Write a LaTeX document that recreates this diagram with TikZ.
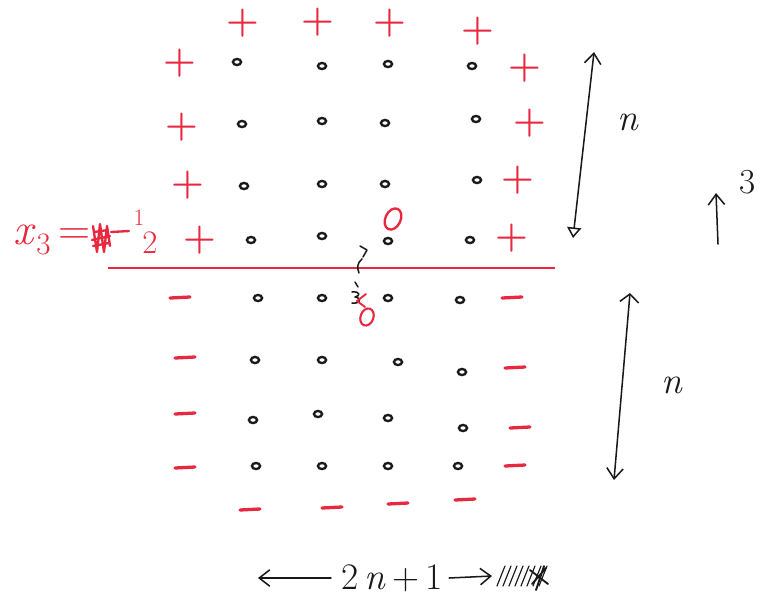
\documentclass[tikz,border=0pt]{standalone}
\usetikzlibrary{arrows.meta,shapes.geometric}
\definecolor{pen}{RGB}{232,40,62}
\definecolor{ink}{RGB}{25,25,25}
\begin{document}
\begin{tikzpicture}[x=0.03cm,y=-0.03cm,
  plus/.style={text=pen,inner sep=0pt,font=\fontsize{32}{32}\selectfont\bfseries},
  minus/.style={draw=pen,line width=2.8pt,line cap=round},
  dot/.style={draw=ink,ellipse,line width=2pt,inner sep=0pt,minimum width=7pt,minimum height=5.2pt},
  lab/.style={text=ink,inner sep=0pt,font=\fontsize{32}{32}\selectfont\itshape},
  redlab/.style={text=pen,inner sep=0pt,font=\fontsize{38}{38}\selectfont},
  hand/.style={draw=ink,line width=1.3pt,line cap=round,line join=round},
  redhand/.style={draw=pen,line width=1.6pt,line cap=round,line join=round},
  barb/.style={-{Straight Barb[length=9pt,width=14pt,line width=1.3pt]}}
]
\useasboundingbox (0,0) rectangle (764,606);
% top row of plus signs
\foreach \x/\y [count=\i] in {243/23,318/22,390/23,478/31}
  \node[plus] (pt\i) at (\x,\y) {+};
% left and right plus signs
\foreach \x/\y [count=\i] in {180/63,182/127,188/185,200/240}
  \node[plus] (pl\i) at (\x,\y) {+};
\foreach \x/\y [count=\i] in {525/68,530/123,518/180,512/238}
  \node[plus] (pr\i) at (\x,\y) {+};
% upper dots
\foreach \x/\y [count=\i] in {237/62,322/66,388/64,472/66,
                              242/124,322/121,385/123,476/119,
                              244/186,322/184,385/184,477/180,
                              251/240,322/236,388/241,470/240}
  \node[dot] (du\i) at (\x,\y) {};
% red zero above a dot
\node[draw=pen,ellipse,line width=2pt,minimum width=13pt,minimum height=19pt,rotate=-25,inner sep=0pt] (rz) at (393,219) {};
% dividing line
\coordinate (la) at (108,268);
\coordinate (lb) at (555,268);
\draw[pen,line width=1.6pt] (la) -- (lb);
% lower dots
\foreach \x/\y [count=\i] in {258/298,322/298,388/298,460/300,
                              255/360,322/360,398/362,462/372,
                              253/420,318/414,388/418,463/428,
                              256/466,322/466,388/466,458/466}
  \node[dot] (dl\i) at (\x,\y) {};
% minus signs
\foreach \x/\y [count=\i] in {180/298,185/358,185/414,185/468,
                              512/298,515/368,520/428,515/466,
                              250/510,332/508,398/504,465/500}
  \draw[minus] (\x-10,\y) -- (\x+10,\y-1);
% small annotation at the centre
\draw[hand] (360,246) -- (367,250) -- (363,257);
\draw[hand] (362,259) .. controls (357,263) and (357,268) .. (359,273);
\draw[hand] (355,282) -- (358,287);
\draw[hand] (352,292) .. controls (360,291) and (361,296) .. (355,297) .. controls (362,298) and (361,304) .. (352,303);
\draw[redhand] (366,294) -- (357,301) -- (365,307);
\node[draw=pen,ellipse,line width=1.8pt,minimum width=11pt,minimum height=15pt,rotate=-20,inner sep=0pt] (rz2) at (367,317) {};
% left label x_3 = -1/2
\node[redlab,anchor=east] (xeq) at (91,240) {\textit{x}\textsubscript{3}\,=};
\draw[redhand,line width=2pt] (93,226) -- (97,252) -- (100,224) -- (104,252) -- (107,226) -- (110,246)
  (92,240) -- (110,236) (93,246) -- (109,243) (94,232) -- (108,230);
\coordinate (m1) at (111,232);
\coordinate (m2) at (129,231);
\draw[redhand,line width=2pt] (m1) -- (m2);
\node[redlab,font=\fontsize{20}{20}\selectfont] (one) at (139,218) {1};
\node[redlab,font=\fontsize{28}{28}\selectfont] (two) at (150,243) {2};
% right arrows
\coordinate (a1) at (594,52);
\coordinate (a2) at (573,238);
\draw[hand,{Triangle[open,length=9pt,width=12pt,line width=1.3pt]}-{Straight Barb[length=9pt,width=14pt,line width=1.3pt]}] (a2) -- (a1);
\node[lab] (n1) at (628,122) {n};
\coordinate (b1) at (630,293);
\coordinate (b2) at (614,480);
\draw[hand,{Straight Barb[length=7pt,width=16pt,line width=1.3pt]}-{Straight Barb[length=9pt,width=14pt,line width=1.3pt]}] (b1) -- (b2);
\node[lab] (n2) at (672,385) {n};
\coordinate (c1) at (718,244);
\coordinate (c2) at (716,193);
\draw[hand,barb] (c1) -- (c2);
\node[lab,font=\fontsize{30}{30}\selectfont] (three) at (748,182) {3};
% bottom label
\node[lab,font=\fontsize{32}{32}\selectfont] (w) at (392,578) {2\,\textit{n}\,+\,1};
\coordinate (wl) at (258,578);
\coordinate (wr) at (492,576);
\draw[hand,barb] (w.west) ++(-10,0) coordinate (wls) -- (wl);
\draw[hand,barb] (w.east) ++(6,0) coordinate (wrs) -- (wr);
\foreach \k in {0,...,7}
  \draw[hand,line width=1pt] (497+\k*6,586) -- (505+\k*6,566);
\draw[hand,line width=1.6pt] (530,570) -- (548,584) (532,584) -- (546,568) (536,590) -- (544,566);
\end{tikzpicture}
\end{document}
